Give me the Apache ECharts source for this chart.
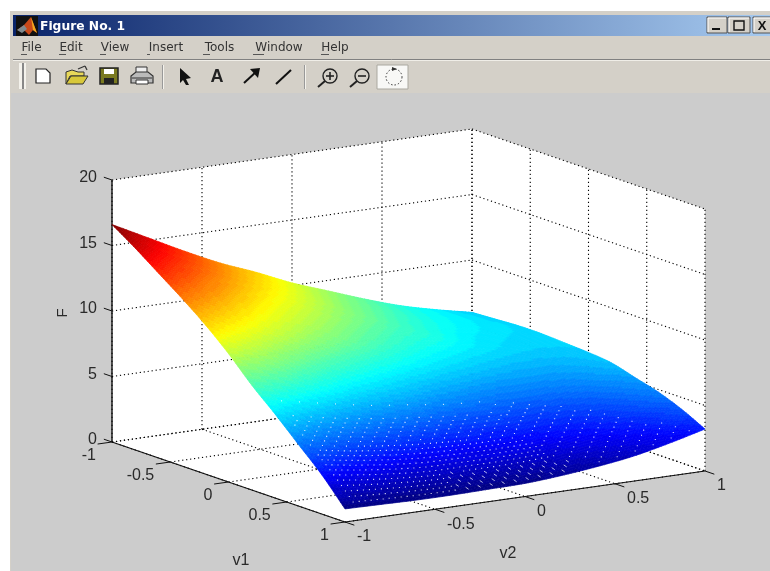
<!DOCTYPE html>
<html><head><meta charset="utf-8">
<style>html,body{margin:0;padding:0;background:#fff}#c{width:770px;height:571px}</style>
<script src="https://cdn.jsdelivr.net/npm/echarts@6/dist/echarts.min.js"></script>
</head><body><div id="c"></div>
<script>
// ---- data ----
const titleText = 'Figure No. 1';
const menuLabels = ['File','Edit','View','Insert','Tools','Window','Help'];
const v1Ticks = [-1,-0.5,0,0.5,1];
const v2Ticks = [-1,-0.5,0,0.5,1];
const fTicks = [0,5,10,15,20];
const v1Samples = [-1,-0.8,-0.6,-0.4,-0.2,0,0.2,0.4,0.6,0.8,1];
const v2Samples = [-1,-0.8,-0.6,-0.4,-0.2,0,0.2,0.4,0.6,0.8,1];
const fAtV1m10 = [16.6,15.2,13.8,12.5,11.4,10.2,9.2,8.2,7.3,6.6,6.0];
const fAtV1m08 = [15.4,14.2,13.0,11.8,10.7,9.7,8.7,7.9,7.1,6.6,6.1];
const fAtV1m06 = [14.1,13.1,12.0,10.9,10.0,9.1,8.3,7.5,6.9,6.5,6.2];
const fAtV1m04 = [12.8,11.9,10.9,10.0,9.2,8.4,7.7,7.2,6.6,6.3,6.2];
const fAtV1m02 = [11.4,10.6,9.8,9.0,8.3,7.6,7.0,6.6,6.3,6.1,6.1];
const fAtV1p00 = [9.8,9.2,8.4,7.7,7.1,6.6,6.2,5.9,5.7,5.7,6.0];
const fAtV1p02 = [8.0,7.5,6.9,6.3,5.9,5.5,5.2,5.0,5.0,5.2,5.8];
const fAtV1p04 = [6.4,5.8,5.3,4.9,4.6,4.3,4.2,4.1,4.2,4.6,5.3];
const fAtV1p06 = [4.7,4.2,3.8,3.5,3.3,3.2,3.2,3.3,3.5,4.0,4.8];
const fAtV1p08 = [3.0,2.6,2.3,2.1,2.1,2.1,2.2,2.4,2.8,3.3,4.1];
const fAtV1p10 = [1.0,0.95,0.9,0.9,0.95,1.0,1.2,1.5,1.9,2.5,3.2];
const fRows = [fAtV1m10,fAtV1m08,fAtV1m06,fAtV1m04,fAtV1m02,fAtV1p00,fAtV1p02,fAtV1p04,fAtV1p06,fAtV1p08,fAtV1p10];
const colorMin = 0.9, colorMax = 16.6;

// ---- view of the 3D box (oblique view on the page) ----
const ORIGIN=[112,442], V1_UNIT=[116.5,40], V2_UNIT=[180,-25.5], F_UNIT=13.1;
function project(v1,v2,f){
  return [ORIGIN[0]+(v1+1)*V1_UNIT[0]+(v2+1)*V2_UNIT[0],
          ORIGIN[1]+(v1+1)*V1_UNIT[1]+(v2+1)*V2_UNIT[1]-f*F_UNIT];
}
function jet(f){
  let t=(f-colorMin)/(colorMax-colorMin);
  t=Math.max(0,Math.min(1,t));
  t=(Math.floor(t*63.999)+0.5)/64;
  const ch=x=>Math.round(255*Math.max(0,Math.min(1,1.5-Math.abs(4*x))));
  return 'rgb('+ch(t-0.75)+','+ch(t-0.5)+','+ch(t-0.25)+')';
}
const FILL_SUB=10, DOT_SUB=6, N=v1Samples.length;
// smooth shading of the surface between the read samples
function cr(p0,p1,p2,p3,t){
  return 0.5*(2*p1+(p2-p0)*t+(2*p0-5*p1+4*p2-p3)*t*t+(3*p1-p0-3*p2+p3)*t*t*t);
}
function at(i,j){
  if(i<0)return 2*at(0,j)-at(1,j);
  if(i>=N)return 2*at(N-1,j)-at(N-2,j);
  if(j<0)return 2*fRows[i][0]-fRows[i][1];
  if(j>=N)return 2*fRows[i][N-1]-fRows[i][N-2];
  return fRows[i][j];
}
function shade(i,j,a,b){
  const r=[-1,0,1,2].map(d=>cr(at(i+d,j-1),at(i+d,j),at(i+d,j+1),at(i+d,j+2),b));
  return cr(r[0],r[1],r[2],r[3],a);
}
function surfPoint(i,j,a,b){
  const v1=v1Samples[i]+(v1Samples[i+1]-v1Samples[i])*a;
  const v2=v2Samples[j]+(v2Samples[j+1]-v2Samples[j])*b;
  return project(v1,v2,shade(i,j,a,b));
}
const cells=[];
for(let i=0;i<N-1;i++)for(let j=N-2;j>=0;j--)cells.push([i,j]);

function renderCell(params,api){
  const i=api.value(0),j=api.value(1),children=[];
  for(let s=0;s<FILL_SUB;s++)for(let t=FILL_SUB-1;t>=0;t--){
    const a0=s/FILL_SUB,a1=(s+1)/FILL_SUB,b0=t/FILL_SUB,b1=(t+1)/FILL_SUB;
    const pts=[[a0,b0],[a1,b0],[a1,b1],[a0,b1]].map(q=>api.coord(surfPoint(i,j,q[0],q[1])));
    const c=jet(shade(i,j,(a0+a1)/2,(b0+b1)/2));
    children.push({type:'polygon',shape:{points:pts},style:{fill:c,stroke:c,lineWidth:0.7}});
  }
  return {type:'group',children};
}
function renderSpeckle(params,api){
  const i=api.value(0),j=api.value(1),children=[];
  for(let s=0;s<DOT_SUB;s++)for(let t=0;t<DOT_SUB;t++){
    const A=i*DOT_SUB+s,B=j*DOT_SUB+t;
    const a=s/DOT_SUB,b=t/DOT_SUB,f=shade(i,j,a,b),q=(j+b)/10,p=(i+a)/10;
    if(p<0.1||q<0.02)continue;
    const lim=7.2-4*q;
    if(f>lim)continue;
    let on;
    if(q>0.62) on=((A+B)%3===0);
    else if(f<lim*0.6) on=true;
    else if(f<lim*0.85) on=((A+B)%2===0);
    else on=(A%3===0&&B%3===0);
    if(!on)continue;
    const c=api.coord(surfPoint(i,j,a,b));
    if(q>0.32&&q<0.7&&f<1.9){
      if((A+B)%2===0)children.push({type:'line',shape:{x1:c[0]-1.5,y1:c[1]-1,x2:c[0]+1.5,y2:c[1]+1},style:{stroke:'rgba(255,255,255,0.7)',lineWidth:1}});
    }else{
      children.push({type:'rect',shape:{x:c[0]-0.5,y:c[1]-0.5,width:1.1,height:1.1},style:{fill:'rgba(255,255,255,0.85)'}});
    }
  }
  return {type:'group',children};
}
const DOT={stroke:'#000',lineWidth:1.1,lineDash:[1.2,2.8]};
const TXT='"Liberation Sans",Arial,sans-serif';
function renderFrame(params,api){
  const c=[];
  const P=(a,b,f)=>api.coord(project(a,b,f));
  const wall=(pts)=>c.push({type:'polygon',shape:{points:pts},style:{fill:'#fff'}});
  wall([P(-1,-1,0),P(1,-1,0),P(1,1,0),P(-1,1,0)]);
  wall([P(-1,-1,0),P(-1,1,0),P(-1,1,20),P(-1,-1,20)]);
  wall([P(-1,1,0),P(1,1,0),P(1,1,20),P(-1,1,20)]);
  const dotted=(p,q)=>c.push({type:'line',shape:{x1:p[0],y1:p[1],x2:q[0],y2:q[1]},style:DOT});
  v1Ticks.forEach(v=>{dotted(P(v,-1,0),P(v,1,0));dotted(P(v,1,0),P(v,1,20));});
  v2Ticks.forEach(v=>{dotted(P(-1,v,0),P(1,v,0));dotted(P(-1,v,0),P(-1,v,20));});
  fTicks.forEach(f=>{dotted(P(-1,-1,f),P(-1,1,f));dotted(P(-1,1,f),P(1,1,f));});
  return {type:'group',children:c};
}
function renderAxes(params,api){
  const c=[];
  const P=(a,b,f)=>api.coord(project(a,b,f));
  const solid=(p,q,w)=>c.push({type:'line',shape:{x1:p[0],y1:p[1],x2:q[0],y2:q[1]},style:{stroke:'#111',lineWidth:w||1.2}});
  const text=(s,p,align)=>c.push({type:'text',x:p[0],y:p[1],style:{text:s,font:'16px '+TXT,fill:'#2a2a2a',textAlign:align,textVerticalAlign:'middle'}});
  solid(P(-1,-1,0),P(-1,-1,20),1.4);
  solid(P(-1,-1,0),P(1,-1,0),1.2);
  solid(P(1,-1,0),P(1,1,0),1.2);
  fTicks.forEach(f=>{const p=P(-1,-1,f);solid(p,P(-1.07,-1,f),1);text(String(f),[p[0]-15,p[1]-2],'right');});
  v1Ticks.forEach(v=>{const p=P(v,-1,0);solid(p,P(v,-1.08,0),1);text(String(v),[p[0]-16,p[1]+14],'right');});
  v2Ticks.forEach(v=>{const p=P(1,v,0);solid(p,P(1.08,v,0),1);text(String(v),[p[0]+12,p[1]+15],'left');});
  text('v1',[241,561],'center');
  text('v2',[508,554],'center');
  c.push({type:'text',x:63,y:313,rotation:Math.PI/2,style:{text:'F',font:'15px '+TXT,fill:'#2a2a2a',textAlign:'center',textVerticalAlign:'middle'}});
  return {type:'group',children:c};
}

// ---- window chrome ----
const g=[];
const rect=(x,y,w,h,fill,extra)=>g.push(Object.assign({type:'rect',shape:{x,y,width:w,height:h},style:{fill}},extra||{}));
const line=(x1,y1,x2,y2,stroke,w)=>g.push({type:'line',shape:{x1,y1,x2,y2},style:{stroke,lineWidth:w||1}});
const poly=(points,fill,stroke,w)=>g.push({type:'polygon',shape:{points},style:{fill,stroke:stroke||null,lineWidth:w||1}});
const txt=(s,x,y,font,fill,align)=>g.push({type:'text',x,y,style:{text:s,font,fill,textAlign:align||'left',textVerticalAlign:'middle'}});
rect(10,11,760,560,'#D4D0C8');
rect(13,15,757,21,'#0A246A',{style:{fill:new echarts.graphic.LinearGradient(0,0,1,0,[{offset:0,color:'#0A246A'},{offset:1,color:'#A6CAF0'}])}});
rect(11,93,759,478,'#CCCCCC');
line(13,59.5,770,59.5,'#808080',1);
line(13,60.5,770,60.5,'#F0EEE8',1);
// logo
rect(16,16,22,20,'#111');
poly([[17,30],[24,25],[31,17],[37,33],[33,30],[29,35],[25,31]],'#C8491A');
poly([[31,17],[37,33],[33,30]],'#F2A71E');
poly([[17,30],[24,25],[27,29],[22,33]],'#7E8A8F');
txt(titleText,40,26.5,'bold 12.3px "DejaVu Sans",sans-serif','#fff');
// menu
const menuX=[21,59,100,147,203,253,321], menuW=[21,24,30,38,33,52,28], underW=[6,7,6,3,7,11,8];
menuLabels.forEach((m,i)=>{
  g.push({type:'text',x:menuX[i]+menuW[i]/2,y:47.5,style:{text:m,font:'12px "DejaVu Sans",sans-serif',fill:'#333',textAlign:'center',textVerticalAlign:'middle'}});
  line(menuX[i],54.5,menuX[i]+underW[i],54.5,'#555',1);
});
// toolbar separators
rect(19,63,3,26,'#F4F2EC');rect(22,63,2,26,'#888');rect(24,63,2,26,'#F4F2EC');
rect(162,65,1,24,'#999');rect(163,65,1,24,'#F4F2EC');
rect(304,65,1,24,'#999');rect(305,65,1,24,'#F4F2EC');
// new
poly([[36,69],[46,69],[50,73],[50,83],[36,83]],'#fff','#222',1.2);
// open
poly([[66,84],[66,72],[72,70],[78,72],[84,72],[84,76],[70,76]],'#E8D85A','#333',1);
poly([[66,84],[71,76],[88,76],[83,84]],'#D8C83A','#333',1);
line(78,69,85,66,'#333',1.2);line(85,66,87,70,'#333',1.2);
// save
rect(100,68,18,16,'#8A8A20',{style:{fill:'#7A7A20',stroke:'#222',lineWidth:1.5}});
rect(104,69,10,5,'#fff');rect(104,78,10,6,'#222');
// print
rect(136,67,11,6,'#eee',{style:{fill:'#eee',stroke:'#333',lineWidth:1}});
poly([[131,76],[136,72],[148,72],[153,76],[153,83],[131,83]],'#bbb','#333',1.2);
line(132,78,152,78,'#333',1);
rect(136,80,12,4,'#fff',{style:{fill:'#fff',stroke:'#333',lineWidth:1}});
// pointer
poly([[180,68],[191,78],[186,79],[189,85],[186,85],[183,80],[180,83]],'#111');
txt('A',217,77,'bold 18px "Liberation Sans",sans-serif','#222','center');
// arrow, line
line(244,83,257,71,'#111',2);poly([[250,69],[260,68],[258,78]],'#111');
line(276,84,291,70,'#111',2);
// zooms
const zoomIcon=(cx,cy,plus)=>{
  g.push({type:'circle',shape:{cx,cy,r:7},style:{fill:'#D4D0C8',stroke:'#222',lineWidth:1.4}});
  line(cx-5,cy+5,cx-12,cy+11,'#222',2);
  line(cx-4,cy,cx+4,cy,'#222',1.6);
  if(plus)line(cx,cy-4,cx,cy+4,'#222',1.6);
};
zoomIcon(330,76,true);zoomIcon(362,76,false);
// rotate button
rect(377,65,31,24,'#fff',{style:{fill:'#F8F8F6',stroke:'#AAA8A0',lineWidth:1}});
g.push({type:'circle',shape:{cx:394,cy:77,r:8},style:{fill:null,stroke:'#333',lineWidth:1,lineDash:[1.5,2]}});
poly([[392,67],[397,69],[392,71]],'#333');
// window buttons
[[707,17,20],[728,17,22],[753,17,20]].forEach(b=>{
  rect(b[0],b[1],b[2],16,'#D4D0C8',{style:{fill:'#D4D0C8',stroke:'#555',lineWidth:1}});
  line(b[0]+1,b[1]+1,b[0]+b[2]-1,b[1]+1,'#fff',1);
  line(b[0]+1,b[1]+1,b[0]+1,b[1]+15,'#fff',1);
});
rect(712,28,8,2,'#111');
rect(734,21,10,9,'none',{style:{fill:null,stroke:'#111',lineWidth:1.4}});
txt('X',762,26,'bold 13px "Liberation Sans",sans-serif','#111','center');

const chart=echarts.init(document.getElementById('c'),null,{renderer:'canvas'});
const axisBase={show:false,type:'value'};
chart.setOption({
  animation:false,
  backgroundColor:'#fff',
  grid:{left:0,right:0,top:0,bottom:0},
  xAxis:Object.assign({min:0,max:770},axisBase),
  yAxis:Object.assign({min:0,max:571,inverse:true},axisBase),
  graphic:{elements:g},
  series:[
    {type:'custom',coordinateSystem:'cartesian2d',renderItem:renderFrame,data:[[0,0]],silent:true,z:3,clip:false},
    {type:'custom',coordinateSystem:'cartesian2d',renderItem:renderAxes,data:[[0,0]],silent:true,z:4,clip:false},
    {type:'custom',coordinateSystem:'cartesian2d',renderItem:renderCell,data:cells,silent:true,z:5,clip:false,progressive:0},
    {type:'custom',coordinateSystem:'cartesian2d',renderItem:renderSpeckle,data:cells,silent:true,z:6,clip:false,progressive:0}
  ]
});
</script></body></html>
